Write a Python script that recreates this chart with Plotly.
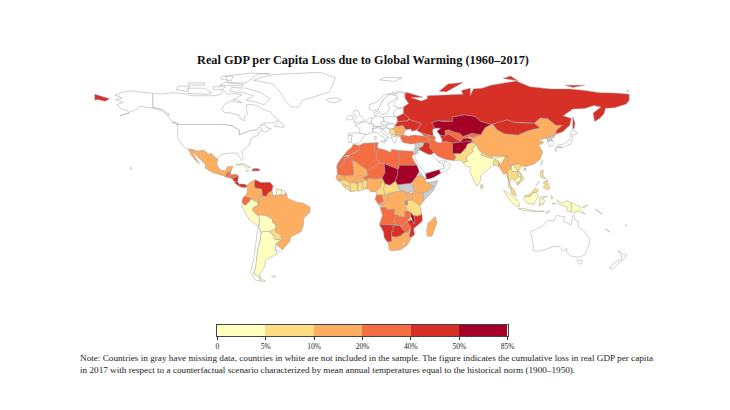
import plotly.graph_objects as go

# the geo basemap needs a download, so outlines are rough lon/lat rings estimated by hand
# --- not in the sample / background ---
canada = [[(-141,69.6),(-135,69),(-128,70),(-120,69.5),(-115,68),(-108,68),(-100,68),(-95,69),(-94,72),(-90,69),(-85,69.5),(-81,68.5),(-87,65),(-93,62),(-94.5,59),(-92.5,57),(-88,56.5),(-82.5,55),(-82,52.8),(-79.5,51.3),(-79,54.5),(-77,56),(-78,59),(-77.5,62.3),(-73,62),(-70,61),(-66,58.7),(-62,57.5),(-60,55),(-56,52),(-60,50),(-66,50),(-69,48),(-65,49),(-64.5,47),(-61,46),(-64,44.5),(-66,44),(-67,45.2),(-69,47.3),(-71,45.3),(-75,45),(-79,43.5),(-83,42),(-82.5,45.3),(-88,48.2),(-95,49),(-123,49),(-128,51),(-131,54.5),(-130,55.5),(-135,59),(-141,60.2)],
    [(-62,66),(-66,62),(-72,64),(-78,65),(-73,68),(-80,70),(-89,71),(-88,73.5),(-78,73),(-68,70)],
    [(-117,69.5),(-105,69),(-101,70),(-106,73),(-117,73)],
    [(-90,76.5),(-78,76.5),(-70,82.5),(-62,82.5),(-75,83),(-92,81)],
    [(-125,72),(-118,71),(-116,74),(-124,74.5)],
    [(-96,75),(-80,74.5),(-80,75.5),(-92,77)],
    [(-59,47.8),(-53,47),(-53,49),(-56,51.5)],
    [(-128,50.5),(-123.5,48.5),(-125,50)],
    [(-117,75),(-106,75),(-106,76.5),(-117,76.5)],
    [(-100,72),(-94,72),(-92,74),(-100,74)],
    [(-87,64),(-81,63.5),(-85,65.5)],
    [(-95,79),(-88,78),(-87,81),(-94,81)]]
usa = [[(-124.7,48.4),(-123,49),(-95,49),(-88,48.2),(-82.5,45.3),(-83,42),(-79,43.5),(-75,45),(-71,45.3),(-69,47.3),(-67,45.2),(-70,43.5),(-70,41.7),(-74,40.5),(-75.5,37.5),(-76,35),(-81,31.5),(-80,26),(-81,25),(-82.7,28),(-84,30),(-89,30),(-94,29.5),(-97.2,27),(-97.2,26),(-99.5,27.5),(-101.5,29.8),(-103,29),(-106.5,31.8),(-111,31.3),(-114.8,32.5),(-117.1,32.5),(-120.5,34.5),(-122.5,37.5),(-124.3,40.3),(-124,46)],
    [(-141,69.6),(-150,70.5),(-156.5,71.3),(-162,70),(-166.5,68.3),(-161.5,66.5),(-166,65.5),(-161,63.7),(-165,62),(-162,59),(-158,58.5),(-157,56.5),(-163,54.8),(-154,58),(-151.5,59.3),(-150,61),(-146,60.5),(-140,59.7),(-135,58),(-131,55),(-130,55.5),(-135,59),(-141,60.2)],
    [(-156,20.8),(-155,19.8),(-155.7,19)]]
greenland = [[(-73,78.2),(-60,76),(-55,70),(-51,64),(-48,61),(-43,60),(-40,65),(-30,68),(-22,70.5),(-20,75),(-18,80),(-28,83.5),(-45,82.5),(-60,82),(-68,80)]]
iceland = [[(-24,65.5),(-22,64),(-18,63.4),(-14,65),(-16,66.4),(-22,66.4)]]
portugal = [[(-9.5,38.7),(-8.8,42),(-6.5,41.8),(-7.3,37.2),(-8.9,37)]]
spain = [[(-8.8,42),(-9.2,43.2),(-1.8,43.4),(3.2,42.4),(0,39.8),(-0.6,38),(-2,36.8),(-5.5,36),(-7.3,37.2),(-6.5,41.8)]]
france = [[(-1.8,43.4),(3.2,42.4),(7.5,43.8),(7,46),(8.2,49),(4,50),(2.5,51),(-1.5,49.5),(-4.7,48.4),(-1.2,46)]]
britain = [[(-5.5,50),(1.3,51.2),(1.7,52.7),(-1.5,55),(-2,57.6),(-5,58.6),(-6,56),(-3,54),(-5,52)]]
ireland = [[(-10,52),(-6.2,52.2),(-6,54.5),(-8,55.2),(-10,54)]]
benelux = [[(2.5,51),(4,50),(6,49.5),(6.1,50.7),(7,53.3),(5,53.3)]]
germany = [[(7,53.3),(6.1,50.7),(6,49.5),(8.2,49),(7.6,47.6),(13,47.5),(13.8,48.7),(12.2,50.2),(15,51),(14.2,53.9),(11,54),(9,54.9),(8.6,54)]]
denmark = [[(8.2,55),(9,54.9),(10.8,56),(10.5,57.6),(8.2,57)]]
switzerland = [[(7,46),(7.6,47.6),(9.6,47.5),(10.4,46.8)]]
italy = [[(7.5,43.8),(7,46),(10.4,46.8),(13.7,46.5),(12.3,44.5),(16,41.7),(18.5,40),(16.9,40.4),(16.5,38),(15.7,38),(15.5,40),(12.2,41.8),(10,43.9)],
    [(12.5,38),(15.5,38.2),(15,36.7)],
    [(8.2,41),(9.7,41),(9.5,39),(8.5,39)]]
austria = [[(9.6,47.5),(13,47.5),(13.8,48.7),(17,48.6),(16,46.8),(13.7,46.5),(10.4,46.8)]]
czechia = [[(12.2,50.2),(13.8,48.7),(17,48.6),(18.8,49.5),(15,51)]]
poland = [[(14.2,53.9),(15,51),(18.8,49.5),(22.8,49),(24,50.8),(23.5,54),(19.5,54.4)]]
hungary = [[(17,48.6),(18.8,49.5),(22.8,49),(22.2,48),(21,46.2),(18.8,45.9),(16,46.8)]]
norway = [[(5,59),(7.5,58),(11,59),(12.5,61.5),(14,65),(18,68.5),(25,69),(31,70),(25,71),(15,68.5),(10,64),(5,62)],
    [(12,78.5),(22,77.5),(27,80),(15,80)]]
sweden = [[(11,59),(13,55.5),(16.5,56.3),(19,60),(17.3,62.5),(22.5,65.8),(24,66),(23.5,68),(20.5,69),(18,68.5),(14,65),(12.5,61.5)]]
finland = [[(24,66),(21.5,63),(21.5,61),(25,60),(28,60.5),(31.5,62.8),(29,66.5),(29,69.5),(26,70),(20.5,69),(23.5,68)]]
baltics = [[(21,55.5),(21.5,57.5),(23.5,59.3),(28,59.5),(28,56.2),(26.5,55.6),(23.5,54)]]
croatia = [[(13.7,45.5),(16,46.8),(18.8,45.9),(19,43),(18,42.7),(15,44.5)]]
albania = [[(19.4,42),(20.5,42),(23,42),(23,41.2),(20.8,40.8),(20,39.8),(19.4,41)]]
greece = [[(20,39.8),(20.8,40.8),(23,41.2),(26.2,41.5),(23.5,40),(23,37.5),(22.5,36.5),(21,37.5)]]
israel = [[(34.3,31.3),(35,33.1),(36,33),(35.5,29.6),(35,29.5)]]
saudi_arabia = [[(35,28),(36,29.2),(38,30.5),(37,31.5),(39,32),(44.7,29.2),(46.5,29.1),(48,28.5),(50,26.5),(51.5,24.5),(55,22.5),(55.5,20),(52,19),(48.8,18.2),(43.3,16.5),(42.7,16.5),(39,21),(37,25)]]
oman = [[(52,19),(55.5,20),(55,22.5),(56.2,24.8),(59.8,22.5),(57.8,19),(53,16.7)]]
uae = [[(51.5,24.2),(55,22.5),(56.2,24.8),(55.2,25.4)]]
south_korea = [[(125,37.8),(128.4,38.5),(129.4,36),(128.5,34.8),(126.3,34.5)]]
japan = [[(131,34),(132.5,35.5),(136,36),(137.3,37),(139.5,38.5),(140,40.5),(141.4,41.3),(142,39.5),(140.8,36),(137,34.7),(135.5,33.6),(133,34.3)],
    [(140,42),(141.8,45.4),(145.3,43.3),(143,42)],
    [(130,33.5),(131.8,33.7),(131,31.2),(130.2,31.3)],
    [(132.5,33.8),(134.5,34.2),(134,33.4)]]
taiwan = [[(120.2,23),(121.7,25.2),(121,22)]]
australia = [[(113.5,-22),(114.2,-26),(115.7,-32),(115,-34.4),(118,-35),(123.5,-33.9),(129,-31.6),(133,-32),(135.5,-34.8),(138,-33),(138,-35.6),(141,-38.2),(146.3,-39),(150,-37.3),(153,-31),(153.5,-27),(149,-21),(146,-19),(145.5,-15),(143.5,-14),(142.5,-10.8),(141.6,-13),(140.8,-17.5),(135.5,-15),(136.8,-12.2),(131,-11.3),(129.5,-15),(125.5,-14.3),(122,-18),(117,-20.7)],
    [(145,-40.8),(148.3,-40.9),(148,-43),(146,-43.6)]]
new_zealand = [[(172.7,-34.5),(175.5,-36.8),(178.5,-37.7),(176.9,-39.7),(175,-41.5),(174.8,-39.5),(174.6,-37.5)],
    [(172.7,-40.5),(174.3,-41.7),(171,-44.8),(169,-46.6),(166.5,-46),(170,-43)]]
pacific_islands = [[(164,-20.1),(167,-22.3),(165.5,-21.5)],[(157,-7),(160,-9),(162,-10.5)],[(177.3,-17.5),(178.6,-17.8),(178,-18.2)]]
chile = [[(-70,-18.3),(-69.5,-19),(-68,-22.5),(-68.5,-27),(-70,-33),(-71,-40),(-71.5,-45),(-73,-50),(-69,-52),(-68.5,-54.8),(-72,-54),(-75,-49),(-73,-40),(-71.5,-30),(-70.3,-22)]]
uruguay = [[(-58,-30.2),(-53.5,-33.8),(-55,-35),(-58.4,-34)]]
guyana = [[(-60,8.4),(-57.2,6),(-58,2),(-59.8,1.5),(-60.7,5)]]
french_guiana = [[(-54,5.8),(-51.7,4.2),(-52.9,2.2),(-54.5,2.3)]]
falklands = [[(-61,-51.5),(-58,-51.3),(-59,-52.2)]]
lesotho = [[(27,-29.7),(29,-28.7),(29.3,-29.8),(28,-30.6)]]

# --- in the sample ---
russia = [[(28,56.2),(28,59.5),(28,60.5),(31.5,62.8),(29,66.5),(29,69.5),(31,70),(41,67),(33,66.8),(40,64.5),(44,66),(44,68),(54,68.5),(60,69),(68,69),(67,71.5),(73,73),(73,68),(75,72.5),(81,73),(87,75),(104,77.7),(113,74),(127,72.5),(140,72.5),(150,71.5),(160,70),(170,69.8),(180,69),(180,65),(178,62.5),(170,60),(164,59.8),(163,56),(160,53),(156.7,51),(155.7,56.5),(161,60.5),(156,61.5),(150,59.5),(142,59.2),(135.5,54.7),(141,53),(140,48.5),(135,44),(131,42.8),(130.6,42.5),(131,45),(135,48.4),(130.5,48.5),(125,53),(120,53.2),(116,49.8),(114,50),(107,50),(102,50.5),(98,52),(92,50.5),(88,49),(87,49),(80,51),(76,54.3),(69,55.3),(61,54),(61,51),(55,51),(51,51.5),(47,50),(49,46.5),(47.5,45.5),(47.5,43),(48,41.7),(46.5,41.8),(40,43.4),(37,45),(38.5,47.2),(40,49.6),(35,51.2),(32,52.2),(32,53)],
    [(-180,69),(-175,67.5),(-170,66),(-173,64.3),(-178,65.5),(-180,65)],
    [(142,54),(143.5,50),(143,46.5),(142,46),(142,50)],
    [(52,71),(57,70.7),(68,76.8),(58,75.8)],
    [(95,79.5),(105,78),(100,81)],
    [(137,75),(150,75),(142,73.5)],
    [(178,71.5),(180,71),(180,70.8)]]
belarus = [[(23.5,54),(24,51),(30.5,51.4),(32,53),(28,56.2),(26.5,55.6)]]
ukraine = [[(24,50.8),(22.8,49),(22.2,48),(24.9,47.8),(27.5,48.5),(29.5,45.5),(33,46),(33.5,44.5),(36.5,45.2),(38.5,47.2),(40,49.6),(35,51.2),(32,52.2),(30.5,51.4),(24,51)]]
moldova = [[(27,48.3),(29,47.9),(30,46.4),(28.2,45.5)]]
romania = [[(22.2,48),(24.9,47.8),(27,48.3),(28.2,45.5),(29.6,45),(28.5,43.7),(25,43.7),(22.5,44.3),(21,46.2)]]
bulgaria = [[(22.5,44.3),(25,43.7),(28.5,43.7),(27.8,42),(26.2,41.5),(23,41.4)]]
serbia = [[(18.8,45.9),(21,46.2),(22.5,44.3),(23,42.5),(20.5,42),(19,43)]]
turkey = [[(26,40),(26.2,41.7),(28,42),(31.5,41.2),(35,42),(41.5,41.5),(43.7,41),(44.7,39.7),(44.5,37.2),(42,37.2),(36.7,36.8),(36,36.2),(32.5,36),(30.5,36.5),(27.5,37)]]
georgia = [[(40,43.4),(46.5,41.8),(43.7,41),(41.5,41.5)]]
azerbaijan = [[(43.7,41),(46.5,41.8),(48,41.7),(49.5,40.5),(49,38.4),(46.5,39),(44.7,39.7)]]
syria = [[(36,36.2),(36.7,36.8),(42,37.2),(41,34.4),(38.8,33.4),(36,33),(35.8,35)]]
jordan = [[(36,33),(38.8,33.4),(39,32),(37,31.5),(38,30.5),(36,29.2),(35,29.5),(35.5,29.6)]]
iraq = [[(38.8,33.4),(41,34.4),(42,37.2),(44.5,37.2),(46,35.5),(45.5,33.8),(48.5,30.3),(47.7,30),(46.5,29.1),(44.7,29.2),(39,32)]]
yemen = [[(42.7,16.5),(43.3,16.5),(48.8,18.2),(52,19),(53,16.7),(48.5,14),(45,12.8),(43.4,12.8)]]
iran = [[(44.7,39.7),(46.5,39),(49,38.4),(51,36.8),(54,37),(56,38),(61,36.5),(61,31.5),(63.3,27),(61.6,25.1),(57,25.7),(54,26.7),(51,28),(48.5,30.3),(45.5,33.8),(46,35.5),(44.5,37.2)]]
afghanistan = [[(61,36.5),(65,37.3),(71,38.2),(74.5,37.3),(71,36),(70,33.5),(66.5,29.8),(61,29.8),(61,31.5)]]
pakistan = [[(61,29.8),(66.5,29.8),(70,33.5),(71,36),(74.5,37.3),(77.5,35.5),(74,33),(74.8,31),(70,27.5),(71,24.5),(68,23.7),(66.5,25.3),(61.6,25.1),(63.3,27)]]
turkmenistan = [[(52.8,41),(52.5,42),(56,41.3),(58,42.7),(61,41),(66.5,37.4),(65,37.3),(61,36.5),(56,38),(54,37),(53.8,39.5)]]
uzbekistan = [[(56,45),(58.5,45.5),(61,44.3),(66,43),(68,41),(71,42),(73,40.8),(71,40),(68,39.5),(66.5,37.4),(61,41),(58,42.7),(56,41.3)]]
kyrgyzstan = [[(71,42),(74,43.2),(80,42.2),(74,40),(73,40.8)]]
tajikistan = [[(68,39.5),(71,40),(73.5,39.5),(74.5,37.3),(71,38.2),(68,37.1),(66.5,37.4)]]
kazakhstan = [[(47,50),(51,51.5),(55,51),(61,51),(61,54),(69,55.3),(76,54.3),(80,51),(87,49),(83,47),(80,42.2),(74,43.2),(71,42),(68,41),(66,43),(61,44.3),(58.5,45.5),(56,45),(56,41.3),(52.5,42),(50.5,44.5),(53,46.5),(49,46.5)]]
mongolia = [[(88,49),(92,50.5),(98,52),(102,50.5),(107,50),(114,50),(116,49.8),(119.8,46.8),(112,45),(105,42),(96,42.8),(91,45.5)]]
china = [[(74,40),(80,42.2),(83,47),(87,49),(91,45.5),(96,42.8),(105,42),(112,45),(119.8,46.8),(116,49.8),(120,53.2),(125,53),(130.5,48.5),(135,48.4),(131,45),(130.6,42.5),(124.3,40),(121,39),(118,39),(122.5,37),(119,35),(121.8,31),(120,26),(116,22.8),(110,21),(108,21.6),(106,23),(102,22.5),(100,21.5),(98,24),(98.5,28),(92,28),(86,28),(81,30.3),(78.5,32.5),(77.5,35.5),(74.5,37.3),(73.5,39.5)],
    [(108.7,19.3),(110.5,20),(110,18.4)]]
north_korea = [[(124.3,40),(130.6,42.5),(129.5,40.7),(127.5,39),(128.4,38.5),(125,37.8)]]
india = [[(74,33),(77.5,35.5),(78.5,32.5),(81,30.3),(80,28.8),(88,26.4),(89,26.8),(92,27),(97,28.3),(95,25),(93.5,22),(92,24.5),(89.5,26),(88.5,24),(89,21.8),(87,21),(82,16.5),(80,15),(80,12),(77.5,8),(76,10.5),(73,17),(72.8,21),(70,21),(69,22.5),(68,23.7),(71,24.5),(70,27.5),(74.8,31)]]
nepal = [[(80,28.8),(81,30.3),(86,28),(88,27.8),(88,26.4)]]
bangladesh = [[(88.5,24),(89.5,26),(92,24.5),(92.3,21),(90,22),(89,21.8)]]
sri_lanka = [[(79.8,8),(80.5,9.7),(81.8,7.5),(80.5,6)]]
myanmar = [[(92.3,21),(92,24.5),(93.5,22),(95,25),(97,28.3),(98.5,28),(98,24),(100,21.5),(101,21),(97.7,17.5),(99,10.5),(98,14),(97.5,16.8),(95.5,15.8),(94.3,18),(93,20)]]
thailand = [[(97.7,17.5),(100,20.4),(101.5,17.7),(104.7,18),(105.5,14.5),(102.5,12),(100.8,13.4),(99.5,11),(100,9),(101,6.8),(100,6.5),(98.3,8),(99,10.5)]]
laos = [[(100.2,20.5),(102,22.4),(104,19.5),(107.5,15),(105.5,14.5),(104.7,18),(101.5,17.7)]]
cambodia = [[(102.5,12),(105.5,14.5),(107.5,14.5),(106,10.5),(104,10.5)]]
vietnam = [[(102,22.5),(106,23),(108,21.6),(105.7,18.7),(109.2,13),(106.7,10.2),(104.8,8.6),(104,10.5),(106,10.5),(107.5,14.5),(107.5,15),(104,19.5)]]
malaysia = [[(100,6.5),(101,6.8),(102.5,6),(103.5,2.8),(104,1.4),(101,3)],
    [(109.7,1.8),(113,3),(115.5,5.5),(117,7),(119,5),(117.5,4.2),(115,3.8),(113.8,1.5),(110,1)]]
indonesia = [[(95.3,5.5),(98,4),(103.5,0),(106,-3),(105.8,-5.8),(102,-4),(98,1)],
    [(105.2,-6.8),(108.5,-6.5),(114.5,-7.7),(114.4,-8.7),(108,-7.8)],
    [(109,1),(110,1),(113.8,1.5),(115,3.8),(117.5,4.2),(119,1),(116.5,-2),(116,-4),(111,-3),(109.2,-0.5)],
    [(119.5,-5.5),(120,0.8),(125,1.5),(121,0),(123,-1),(122,-4.5),(120.5,-3)],
    [(131,-0.8),(135,-3.3),(137.5,-1.5),(141,-2.6),(141,-9.1),(138,-8.2),(138,-5.5),(133,-4)],
    [(115,-8.3),(119,-8.3),(123,-8.3),(118,-9)],
    [(123.5,-10.3),(127,-8.4),(125,-8.3)],
    [(127.5,2),(128.8,0),(127.8,-0.5)],
    [(128,-3),(130.8,-3.4),(128,-3.6)]]
papua_new_guinea = [[(141,-2.6),(145,-4.5),(147.5,-6),(147,-6.8),(150.5,-10.5),(146,-8.5),(143,-9.2),(141,-9.1)],
    [(148.5,-5.6),(152,-4.2),(150,-6.3)]]
philippines = [[(120.5,18.5),(122.2,18.4),(121.8,15.5),(124,13),(121,13.8),(120,16)],
    [(122,7),(123.5,8.7),(125.5,9.8),(126.4,7),(125.5,5.8),(124,6.5)],
    [(122,10.5),(125,12.5),(125,10.3),(123,9.2)],
    [(117.3,8.4),(119.5,11.3),(119,10)]]
mexico = [[(-117.1,32.5),(-114.8,32.5),(-111,31.3),(-106.5,31.8),(-103,29),(-101.5,29.8),(-99.5,27.5),(-97.2,26),(-97.8,22.5),(-95.5,18.8),(-92,18.5),(-90.5,21),(-87,21.5),(-88,18.5),(-89,17.8),(-91,17.2),(-92.2,14.6),(-96,15.7),(-101,17.3),(-105.5,20),(-105.5,22.5),(-109,26),(-112.5,29),(-114.7,31.5),(-113,28.5),(-110.5,24.5),(-109.5,23),(-112,25),(-115,28.5)]]
guatemala = [[(-92.2,14.6),(-91,17.2),(-89.2,17.8),(-89,15.9),(-88.3,15.7),(-89.4,14.4),(-90.2,13.8)]]
belize = [[(-89.2,17.9),(-88.2,18.5),(-88.3,16.2),(-89.1,15.9)]]
honduras = [[(-89.4,14.4),(-88.3,15.7),(-85,16),(-83.2,15),(-84.5,14.7),(-87.3,13)]]
el_salvador = [[(-90.2,13.8),(-89.4,14.4),(-87.8,13.2)]]
nicaragua = [[(-87.5,13),(-84.5,14.7),(-83.2,15),(-83.7,11),(-85.8,11.1)]]
costa_rica = [[(-85.8,11.1),(-83.7,11),(-82.6,9.5),(-83,8.3),(-85.5,10)]]
panama = [[(-83,8.3),(-82.6,9.5),(-79.5,9.5),(-77.3,8.6),(-78,7.3),(-80.5,7.3)]]
cuba = [[(-85,22),(-80,23.2),(-75,20.7),(-77.7,19.9),(-78.5,21.5),(-82,22.5)]]
haiti = [[(-74.4,18.4),(-72,18.1),(-71.7,19.8),(-73,19.9)]]
dominican_rep = [[(-71.7,19.8),(-72,18.1),(-68.5,18.5),(-69.8,19.7)]]
jamaica = [[(-78.3,18.4),(-76.3,18.1),(-77.3,17.8)]]
colombia = [[(-77.3,8.6),(-75.5,10.7),(-72,12.3),(-72.5,9),(-72,7),(-67.5,6.2),(-67,1.7),(-69.8,1),(-69.5,-4.2),(-70.5,-2.5),(-75,0),(-78.9,1.4),(-77.3,4),(-77.5,7)]]
venezuela = [[(-72,12.3),(-70,11.5),(-68,10.5),(-62,10.7),(-60,8.4),(-60.7,5),(-63,4),(-64.5,1.5),(-67,1.7),(-67.5,6.2),(-72,7),(-72.5,9)]]
suriname = [[(-57.2,6),(-54,5.8),(-54.5,2.3),(-58,2)]]
ecuador = [[(-80.9,-2.2),(-80,0.8),(-78.9,1.4),(-75,0),(-75.5,-1.5),(-78.5,-4.5),(-80.3,-3.4)]]
peru = [[(-81.3,-4.5),(-80.3,-3.4),(-78.5,-4.5),(-75.5,-1.5),(-75,0),(-70.5,-2.5),(-69.5,-4.2),(-73,-6),(-74,-7.5),(-70.5,-11),(-69,-12.5),(-69,-16),(-70,-18.3),(-76,-14),(-79,-8)]]
brazil = [[(-69.5,-4.2),(-69.8,1),(-67,1.7),(-64.5,1.5),(-63,4),(-60.7,5),(-59.8,1.5),(-58,2),(-54.5,2.3),(-52.9,2.2),(-51,4),(-50,0),(-44,-2.5),(-40,-3),(-35.2,-5.5),(-35,-9),(-39,-13),(-39.5,-18),(-41,-22),(-48,-25.5),(-48.7,-28.5),(-53.5,-33.8),(-58,-30.2),(-53.8,-27),(-54.6,-25.5),(-54.3,-24),(-58,-22),(-58,-17.5),(-60,-16),(-60.5,-13.5),(-65.3,-11),(-70.5,-11),(-74,-7.5),(-73,-6)]]
bolivia = [[(-69,-12.5),(-70.5,-11),(-65.3,-11),(-60.5,-13.5),(-60,-16),(-58,-17.5),(-58,-20),(-62.5,-22),(-66,-21.8),(-68,-22.5),(-69.5,-19),(-69,-16)]]
paraguay = [[(-62.5,-22),(-58,-20),(-58,-22),(-54.3,-24),(-54.6,-25.5),(-55.7,-27.3),(-58.5,-27.2),(-60,-24)]]
argentina = [[(-66,-21.8),(-62.5,-22),(-60,-24),(-58.5,-27.2),(-55.7,-27.3),(-53.8,-27),(-58,-30.2),(-58.4,-34),(-57,-36.5),(-62,-39),(-65,-41),(-65.5,-45),(-69,-50.5),(-68.3,-52.5),(-69,-52),(-73,-50),(-71.5,-45),(-71,-40),(-70,-33),(-68.5,-27),(-68,-22.5)],
    [(-68.5,-52.7),(-65,-54.8),(-68.5,-54.8)]]
morocco = [[(-5.9,35.8),(-2,35.1),(-1.2,32.5),(-5.5,30),(-8.7,28.7),(-13,27.7),(-9.8,31.5),(-6.8,34)]]
western_sahara = [[(-13,27.7),(-8.7,27.7),(-12,26),(-12,23.4),(-13,21.3),(-17,21.3),(-16,23.7),(-14.5,26)]]
mauritania = [[(-17,21.3),(-13,21.3),(-12,23.4),(-12,26),(-8.7,27.3),(-4.8,25),(-6.5,25),(-5.5,15.5),(-12,15),(-16.5,16.2)]]
algeria = [[(-2,35.1),(1,36.5),(8.6,36.9),(8.3,32.5),(9.8,30),(9.5,26.5),(12,23.5),(5.8,19.4),(3.3,19),(-4.8,25),(-8.7,27.3),(-8.7,28.7),(-5.5,30),(-1.2,32.5)]]
tunisia = [[(8.6,36.9),(11,37),(10.2,34),(11.5,33),(9.8,30),(8.3,32.5)]]
libya = [[(11.5,33),(15,32.3),(19.5,30.5),(20,32.5),(25,31.7),(25,20),(24,19.5),(15,23),(12,23.5),(9.5,26.5),(9.8,30)]]
egypt = [[(25,31.7),(31,31.5),(34.3,31.3),(34.9,29.5),(33.5,28),(35.5,24),(37,22),(25,22)]]
sudan = [[(25,22),(37,22),(38.5,18),(36.5,14.3),(34,11),(33,10),(30,9.8),(27,9.5),(24,9),(22.5,11.5),(24,15.5),(24,19.5),(25,20)]]
south_sudan = [[(24,9),(27,9.5),(30,9.8),(33,10),(34,9.5),(35,5),(31,3.7),(28,4.5),(25.5,5.3)]]
eritrea = [[(36.5,14.3),(38.5,18),(43,12.7),(40,14.8)]]
ethiopia = [[(36.5,14.3),(40,14.8),(43,12.3),(42.8,11),(48,8),(44.5,5),(41.9,4),(39,3.5),(35,5),(34,9.5),(34,11)]]
somalia = [[(42.8,11),(44,10.5),(51.2,11.8),(48,5),(41.5,-1.7),(41,3.7),(41.9,4),(44.5,5),(48,8)]]
kenya = [[(35,5),(39,3.5),(41,3.7),(41.5,-1.7),(39.2,-4.7),(34,-1),(34,3.5)]]
uganda = [[(31,3.7),(34,3.5),(34,-1),(30,-1),(30,1.5)]]
rwanda_burundi = [[(29,-1.4),(30.8,-1.4),(30.5,-4.4),(29.3,-4.4)]]
tanzania = [[(30,-1),(34,-1),(39.2,-4.7),(39.5,-7),(40.4,-10.5),(37.5,-11.7),(34.7,-11.5),(33,-9.5),(29.5,-6.5),(30.5,-4.4)]]
chad = [[(15,23),(24,19.5),(24,15.5),(22.5,11.5),(18.8,8.8),(15.5,9.8),(14.2,12.5),(13.5,13.7),(15.5,17)]]
niger = [[(3.3,19),(5.8,19.4),(12,23.5),(15,23),(15.5,17),(13.5,13.7),(9,12.8),(4,13.5),(3.5,11.8),(0.5,14),(4,15.3)]]
mali = [[(-12,15),(-5.5,15.5),(-6.5,25),(-4.8,25),(3.3,19),(4,15.3),(0.5,14.8),(-3,15),(-5.5,11),(-8,10.3),(-11.5,12.3)]]
senegal = [[(-16.5,16.2),(-12,15),(-11.5,12.3),(-16.8,12.4),(-17.5,14.7)]]
guinea_bissau = [[(-16.8,12.4),(-13.7,12.5),(-15,11)]]
guinea = [[(-15,11),(-13.7,12.5),(-11.5,12.3),(-8,11),(-8,8.5),(-10.5,8.5),(-13,9.5)]]
sierra_leone = [[(-13,9.5),(-10.5,8.5),(-11.3,7),(-13.2,8.3)]]
liberia = [[(-11.3,7),(-10.5,8.5),(-8,7.5),(-7.5,4.4)]]
ivory_coast = [[(-8,7.5),(-8,10.3),(-5.5,10.5),(-2.8,9.5),(-3,5.1),(-7.5,4.4)]]
ghana = [[(-2.8,9.5),(-2.8,11),(0,11),(1.2,6.1),(-2,4.8),(-3,5.1)]]
togo_benin = [[(0,11),(2.8,12.3),(3.8,10),(2.7,6.3),(1.2,6.1)]]
burkina_faso = [[(-5.5,10.5),(-5.5,11),(-3,15),(0.5,14.8),(2.8,12.3),(0,11),(-2.8,11),(-2.8,9.5)]]
nigeria = [[(2.7,6.3),(3.8,10),(3.5,11.8),(4,13.5),(9,12.8),(13.5,13.7),(14.2,12.5),(12,7),(9.7,5),(8.5,4.5),(6,4.3),(4.5,6.3)]]
cameroon = [[(8.5,4.5),(9.7,5),(12,7),(14.2,12.5),(15.5,9.8),(14.5,6),(16,2.2),(9.8,2.3),(9.7,4)]]
central_african_rep = [[(14.5,6),(15.5,9.8),(18.8,8.8),(22.5,11.5),(25.5,5.3),(27.4,5),(22,4.2),(18.5,3.5),(16,2.2)]]
gabon = [[(8.8,-0.7),(9.8,2.3),(13.3,2.2),(14.5,-2),(11.2,-3.9)]]
congo = [[(11.2,-3.9),(14.5,-2),(13.3,2.2),(16,2.2),(18,3.5),(17.8,-0.5),(16,-3.5),(14,-4.5),(12,-5)]]
dr_congo = [[(12.2,-6),(14,-4.5),(16,-3.5),(17.8,-0.5),(18.5,3.5),(22,4.2),(27.4,5),(30.5,3.7),(30,1.5),(29,-1.4),(29.3,-4.4),(29.5,-6.5),(30.7,-8.2),(28.5,-9),(29,-12.3),(25,-11.8),(22,-11),(21.8,-7),(17,-7.5),(16,-6)]]
angola = [[(12.2,-6),(16,-6),(17,-7.5),(21.8,-7),(22,-11),(24,-11),(22,-13),(22,-16),(23.3,-17.6),(18.5,-17.4),(11.8,-17.2),(13.8,-11),(13.2,-9)]]
zambia = [[(22,-13),(24,-11),(25,-11.8),(29,-12.3),(28.5,-9),(30.7,-8.2),(33,-9.5),(33,-12),(30.4,-15.6),(27,-17.9),(25,-17.8),(23.3,-17.6),(22,-16)]]
malawi = [[(33,-9.5),(34.7,-11.5),(35.5,-14.5),(35.2,-17),(34.2,-15),(33,-12)]]
mozambique = [[(34.7,-11.5),(37.5,-11.7),(40.4,-10.5),(40.7,-15),(36,-19),(34.8,-20),(35.4,-24),(32.8,-26),(32,-24.5),(32.8,-19),(30.4,-15.6),(33,-14),(34.2,-15),(35.2,-17),(35.5,-14.5)]]
zimbabwe = [[(25.3,-17.9),(27,-17.9),(30.4,-15.6),(32.8,-19),(31.5,-22.3),(29,-22.2)]]
namibia = [[(11.8,-17.2),(18.5,-17.4),(23.3,-17.6),(25,-17.8),(21,-18.2),(21,-22),(20,-22),(20,-28.4),(17,-28.7),(15,-26),(14.5,-22)]]
botswana = [[(21,-18.2),(25.3,-17.9),(29,-22.2),(26,-24.7),(23,-25.5),(20,-25),(20,-22),(21,-22)]]
south_africa = [[(17,-28.7),(20,-28.4),(20,-25),(23,-25.5),(26,-24.7),(29,-22.2),(31.5,-22.3),(32,-24.5),(32.8,-26.8),(30.5,-31),(26,-34),(20,-34.8),(18.3,-34),(18,-31)]]
madagascar = [[(49.3,-12),(50.5,-16),(47.2,-25),(44,-25),(43.5,-21.5),(44.5,-16.5)]]

# loss classes
not_in_sample = [canada, usa, greenland, iceland, portugal, spain, france, britain, ireland, benelux, germany,
                 denmark, switzerland, italy, austria, czechia, poland, hungary, norway, sweden, finland, baltics,
                 croatia, albania, greece, israel, saudi_arabia, oman, uae, south_korea, japan, taiwan, australia,
                 new_zealand, pacific_islands, chile, uruguay, guyana, french_guiana, falklands]
missing_data = [syria, jordan, north_korea, south_sudan, eritrea, somalia]
loss_0_5 = [india, peru, bolivia, argentina, cuba, indonesia, papua_new_guinea, cambodia, laos, suriname]
loss_5_10 = [pakistan, paraguay, thailand, vietnam, malaysia, philippines, sri_lanka, tanzania, cameroon,
             central_african_rep, guinea, sierra_leone, liberia, ivory_coast, ghana, togo_benin, serbia, nepal, bangladesh]
loss_10_20 = [china, brazil, colombia, mexico, belize, myanmar, mali, burkina_faso, nigeria, congo, senegal,
              dr_congo, uganda, kenya, ethiopia, south_africa, madagascar, romania, bulgaria, moldova, guinea_bissau]
loss_20_40 = [morocco, western_sahara, mauritania, algeria, tunisia, libya, egypt, niger, gabon, angola,
              zambia, zimbabwe, rwanda_burundi, iran, turkey, uzbekistan, kyrgyzstan, georgia, azerbaijan, guatemala,
              honduras, el_salvador, ecuador]
loss_40_50 = [russia, belarus, ukraine, mongolia, turkmenistan, iraq, venezuela, nicaragua, panama,
              costa_rica, haiti, dominican_rep, jamaica, namibia, botswana, mozambique]
loss_50_85 = [kazakhstan, afghanistan, tajikistan, chad, sudan, yemen, malawi]
on_top = [lesotho]

map_groups = [not_in_sample, missing_data, loss_0_5, loss_5_10, loss_10_20, loss_20_40, loss_40_50, loss_50_85, on_top]
map_colors = ["#FFFFFF", "#CCCCCC", "#FFFFBF", "#FEDC82", "#FDAE61", "#F46D43", "#D73027", "#A50026", "#FFFFFF"]

tick_labels = ["0", "5%", "10%", "20%", "40%", "50%", "85%"]
bin_colors = map_colors[2:8]
bin_width = [1, 1, 1, 1, 1, 1]
bin_height = [1, 1, 1, 1, 1, 1]

TITLE = "Real GDP per Capita Loss due to Global Warming (1960–2017)"
NOTE = ("Note: Countries in gray have missing data, countries in white are not included in the sample. "
        "The figure indicates the cumulative loss in real GDP per capita<br>"
        "in 2017 with respect to a counterfactual scenario characterized by mean annual temperatures "
        "equal to the historical norm (1900–1950).")
FONT = "Liberation Serif"

fig = go.Figure()

for group, color in zip(map_groups, map_colors):
    for shape in group:
        lons, lats = [], []
        for ring in shape:
            lons += [p[0] for p in ring] + [ring[0][0], None]
            lats += [p[1] for p in ring] + [ring[0][1], None]
        fig.add_trace(go.Scatter(x=lons, y=lats, mode="lines", fill="toself", fillcolor=color,
                                 line=dict(color="#A0A0A0", width=0.5), hoverinfo="skip", showlegend=False))

# colour key
fig.add_trace(go.Bar(x=[0.5, 1.5, 2.5, 3.5, 4.5, 5.5], y=bin_height, width=bin_width, marker_color=bin_colors,
                     marker_line_width=0, xaxis="x2", yaxis="y2", hoverinfo="skip", showlegend=False))

fig.update_layout(
    width=730, height=410, margin=dict(l=0, r=0, t=0, b=0),
    paper_bgcolor="white", plot_bgcolor="white",
    font=dict(family=FONT, color="#222222"),
    xaxis=dict(visible=False, range=[-242.5, 243.2], domain=[0, 1]),
    yaxis=dict(visible=False, range=[-140.1, 131.4], domain=[0, 1]),
    xaxis2=dict(domain=[218 / 730, 512 / 730], anchor="y2", range=[0, 6], tickvals=[0, 1, 2, 3, 4, 5, 6],
                ticktext=tick_labels, ticks="outside", ticklen=3, tickwidth=0.7, tickcolor="#333333",
                tickfont=dict(size=7.5), showline=True, linecolor="#444444", linewidth=1, mirror=True,
                showgrid=False, zeroline=False),
    yaxis2=dict(domain=[1 - 336 / 410, 1 - 325 / 410], anchor="x2", range=[0, 1], showticklabels=False,
                ticks="", showline=True, linecolor="#444444", linewidth=1, mirror=True,
                showgrid=False, zeroline=False),
    bargap=0,
    annotations=[
        dict(text="<b>" + TITLE + "</b>", x=365 / 730, y=1 - 60 / 410, xref="paper", yref="paper",
             yanchor="middle", showarrow=False, font=dict(size=12.3, color="#111111")),
        dict(text=NOTE, x=76.5 / 730, y=1 - 351 / 410, xref="paper", yref="paper", xanchor="left", yanchor="top",
             align="left", showarrow=False, font=dict(size=9.2, color="#222222")),
    ],
)

fig.write_html("out.html", config={"displayModeBar": False}, post_script="document.body.style.margin='0';")
